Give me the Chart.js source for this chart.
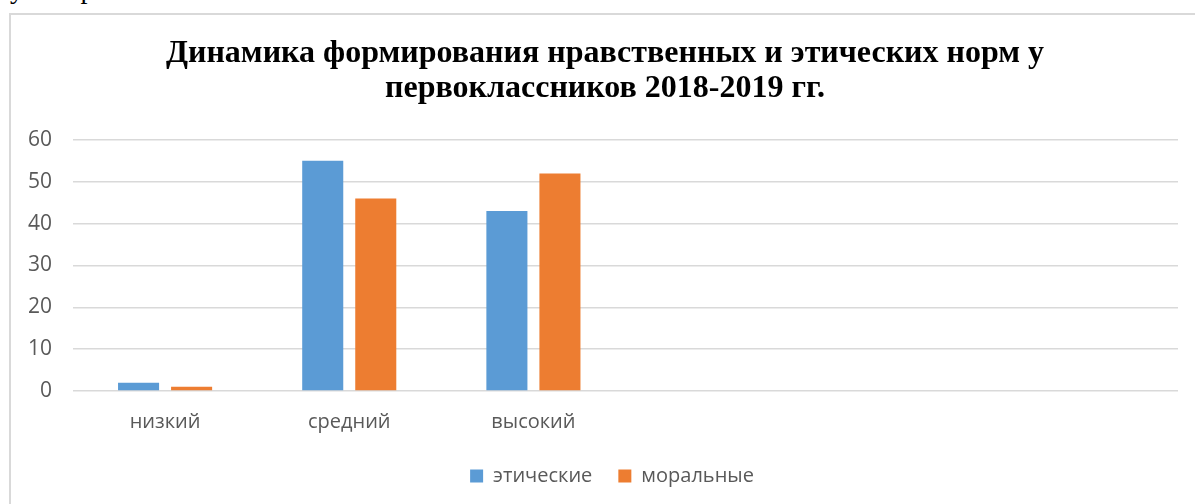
<!DOCTYPE html>
<html>
<head>
<meta charset="utf-8">
<script src="https://cdn.jsdelivr.net/npm/chart.js@4"></script>
<style>
    html, body { margin: 0; padding: 0; background: #fff; overflow: hidden; }
    #page { position: relative; width: 1195px; height: 504px; overflow: hidden; }
    #docText {
        position: absolute; left: 10px; top: -27px;
        font: 28px 'Liberation Serif', serif; color: #000;
        word-spacing: 22px; white-space: nowrap;
    }
    #frame {
        position: absolute; left: 9px; top: 13px; width: 1200px; height: 500px;
        border-left: 2px solid #d9d9d9; border-top: 2px solid #d9d9d9;
    }
    #chartWrap { position: absolute; left: 0; top: 0; width: 1195px; height: 504px; }
</style>
</head>
<body>
<div id="page">
    <div id="docText">у первоклассников</div>
    <div id="frame"></div>
    <div id="chartWrap"><canvas id="levelsChart"></canvas></div>
</div>
<script>
// Chart data
const categories = ['низкий', 'средний', 'высокий', '', '', ''];
const ethicalValues = [2, 55, 43, null, null, null];
const moralValues = [1, 46, 52, null, null, null];
const yTicks = [0, 10, 20, 30, 40, 50, 60];
const titleLines = ['Динамика формирования нравственных и этических норм у', 'первоклассников 2018-2019 гг.'];

document.fonts.load('20px "Open Sans"').then(function() {
    return document.fonts.load('bold 32px "Liberation Serif"');
}).then(setupChart, setupChart);

// title and legend in the original sit a bit right of the canvas centre
const boxShift = {
    id: 'boxShift',
    afterLayout: function(chart) {
        if (chart.legend) {
            chart.legend.left += 23;
            chart.legend.right += 23;
        }
        if (chart.titleBlock) {
            chart.titleBlock.left += 16;
            chart.titleBlock.right += 16;
        }
    }
};

function setupChart() {
    const ctx = document.getElementById('levelsChart');
    if (!ctx) return;

    Chart.defaults.font.family = "'Open Sans', sans-serif";
    Chart.defaults.color = '#595959';

    // eslint-disable-next-line no-new
    new Chart(ctx, {
        type: 'bar',
        data: {
            labels: categories,
            datasets: [{
                label: 'этические',
                data: ethicalValues,
                backgroundColor: '#5b9bd5',
                categoryPercentage: 0.576,
                barPercentage: 0.774
            }, {
                label: 'моральные',
                data: moralValues,
                backgroundColor: '#ed7d31',
                categoryPercentage: 0.576,
                barPercentage: 0.774
            }]
        },
        plugins: [boxShift],
        options: {
            responsive: true,
            maintainAspectRatio: false,
            animation: false,
            layout: {
                padding: { left: 0, right: 17, top: 0, bottom: 8 }
            },
            plugins: {
                title: {
                    display: true,
                    text: titleLines,
                    color: '#000',
                    font: { family: "'Liberation Serif', serif", size: 32, weight: 'bold', lineHeight: 1.1 },
                    padding: { top: 36, bottom: 33.5 }
                },
                legend: {
                    position: 'bottom',
                    labels: {
                        boxWidth: 13,
                        boxHeight: 13,
                        padding: 26,
                        color: '#595959',
                        font: { size: 20 }
                    }
                },
                tooltip: { enabled: false }
            },
            scales: {
                x: {
                    grid: { display: false, drawTicks: false },
                    border: { display: false },
                    ticks: { padding: 19, font: { size: 20 }, color: '#595959' },
                    afterFit: function(scale) { scale.height = 49; }
                },
                y: {
                    min: 0,
                    max: 60,
                    afterBuildTicks: function(scale) {
                        scale.ticks = yTicks.map(v => ({ value: v }));
                    },
                    grid: { color: '#d9d9d9', lineWidth: 1.5, drawTicks: false },
                    border: { display: false },
                    ticks: { padding: 21, font: { size: 21 }, color: '#595959' },
                    afterFit: function(scale) { scale.width = 73; }
                }
            }
        }
    });
}
</script>
</body>
</html>
